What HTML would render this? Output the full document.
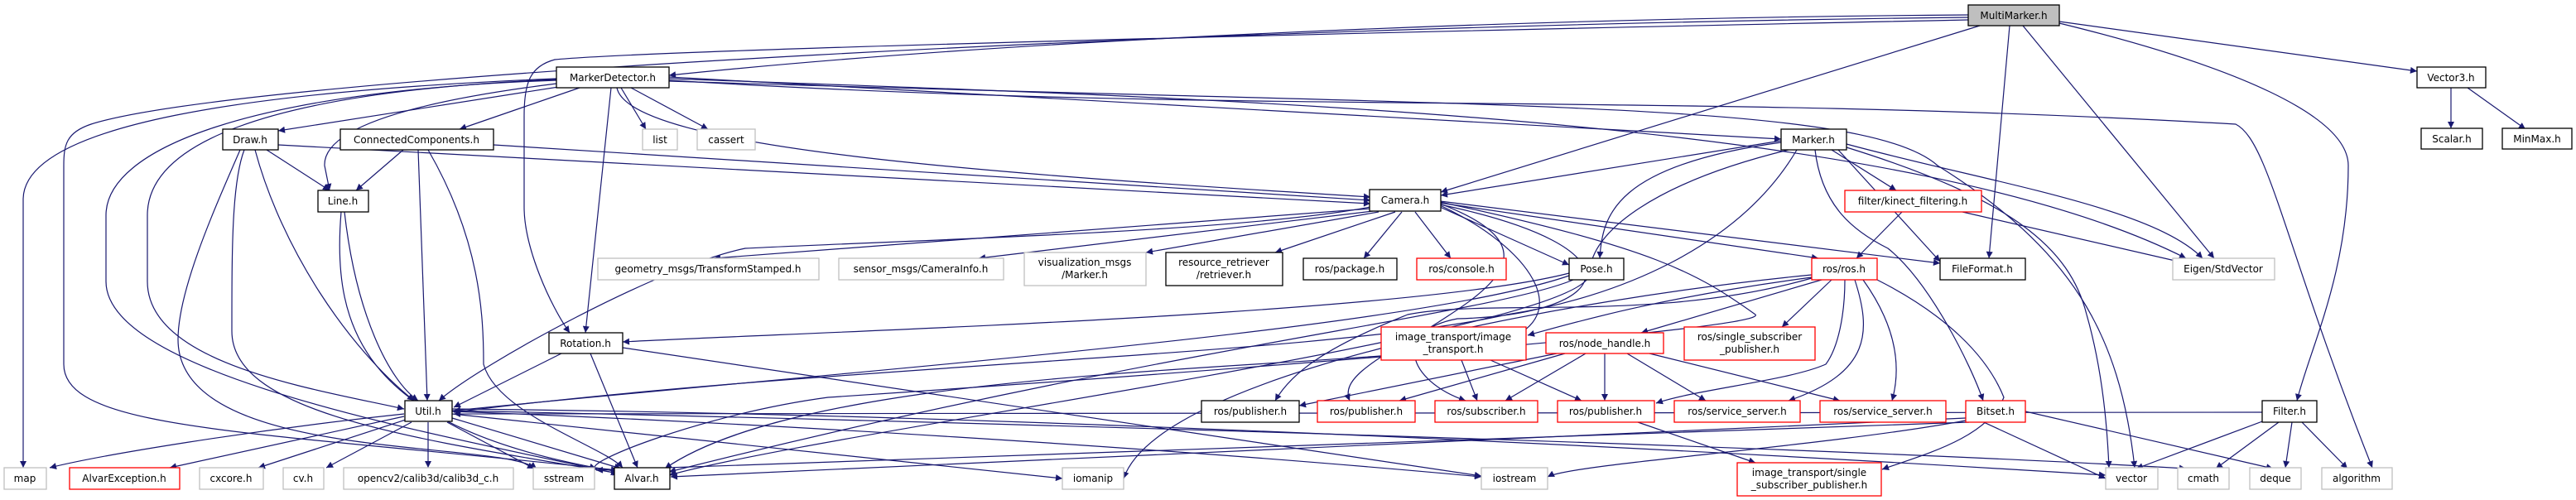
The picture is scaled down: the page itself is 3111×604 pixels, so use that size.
<!DOCTYPE html>
<html><head><meta charset="utf-8"><style>
html,body{margin:0;padding:0;background:#fff;}
svg{display:block;}
text{font-family:"DejaVu Sans","Liberation Sans",sans-serif;font-size:12px;fill:#000;}
.b{fill:#fff;stroke:#000;stroke-width:1.3}
.g{fill:#fff;stroke:#bfbfbf;stroke-width:1.3}
.r{fill:#fff;stroke:#ff0000;stroke-width:1.3}
.e{fill:none;stroke:#191970;stroke-width:1.2}
</style></head><body>
<svg width="3111" height="604" viewBox="0 0 3111 604" xmlns="http://www.w3.org/2000/svg">
<defs><marker id="a" viewBox="0 0 10 10" refX="10" refY="5" markerWidth="10" markerHeight="8" markerUnits="userSpaceOnUse" orient="auto"><path d="M0,0 L10,5 L0,10 z" fill="#191970"/></marker></defs>
<g class="e" marker-end="url(#a)">
<!-- MultiMarker -->
<path d="M2377,18 C1800,22 1200,50 808,91"/>
<path d="M2377,21 C1500,30 300,90 110,150 C80,160 77,175 77,200 L77,440 C77,520 300,520 746,568"/>
<path d="M2377,24 C1600,40 800,60 670,72 C640,80 633,100 633,140 L633,250 C633,300 665,370 688,402"/>
<path d="M2391,31 L1740,232"/>
<path d="M2427,31 L2402,312"/>
<path d="M2443,31 L2674,312"/>
<path d="M2487,26 L2919,86"/>
<path d="M2487,28 C2700,80 2836,140 2836,200 C2836,330 2790,420 2774,484"/>
<!-- MarkerDetector -->
<path d="M681,104 L336,158"/>
<path d="M700,106 L555,156"/>
<path d="M750,106 L780,156"/>
<path d="M762,106 L855,156"/>
<path d="M672,101 C520,120 390,150 392,200 L398,230"/>
<path d="M738,106 L707,402"/>
<path d="M672,96 C300,112 178,180 178,260 L178,340 C178,440 380,470 488,494"/>
<path d="M672,97 C300,110 128,180 128,260 L128,340 C128,450 500,520 746,572"/>
<path d="M672,95 C300,110 30,150 28,240 L28,565"/>
<path d="M745,106 C760,180 1200,210 1655,238"/>
<path d="M808,93 L2151,168"/>
<path d="M808,95 C1500,120 2300,140 2640,312"/>
<path d="M808,97 C1500,140 2000,110 2700,150 C2740,170 2760,300 2865,565"/>
<path d="M808,98 C1800,130 2250,120 2340,200 C2500,300 2560,400 2578,565"/>
<!-- Draw -->
<path d="M322,181 L398,230"/>
<path d="M336,175 L1655,246"/>
<path d="M308,181 C340,300 420,420 500,484"/>
<path d="M295,181 C280,220 280,300 280,400 C280,500 500,530 748,572"/>
<path d="M290,181 C260,250 215,350 215,410 C215,560 600,530 648,566"/>
<!-- ConnectedComponents -->
<path d="M487,181 L430,230"/>
<path d="M505,181 L516,484"/>
<path d="M517,181 C580,290 584,380 584,440 C600,500 730,540 752,565"/>
<path d="M596,175 L1655,242"/>
<!-- Line -->
<path d="M416,256 C430,380 470,460 505,484"/>
<path d="M412,256 C400,400 440,520 748,570"/>
<!-- Camera -->
<path d="M1655,250 C1500,280 1100,290 900,300 C800,320 580,440 530,484"/>
<path d="M1655,252 L862,312"/>
<path d="M1658,255 L1182,312"/>
<path d="M1665,256 L1384,305"/>
<path d="M1685,256 L1540,305"/>
<path d="M1693,256 L1647,312"/>
<path d="M1709,256 L1752,312"/>
<path d="M1739,250 L1895,320"/>
<path d="M1739,245 L2196,312"/>
<path d="M1739,243 L2343,318"/>
<path d="M1739,248 C1850,300 1900,380 1820,410 C1700,450 1000,430 803,566"/>
<path d="M1739,246 C1880,300 1800,350 1720,400 C1650,440 1620,460 1630,484"/>
<path d="M1739,247 C1990,300 1950,380 1760,385 C1680,400 1700,460 1770,484"/>
<path d="M1739,244 C2000,300 2050,330 2120,380 C2140,400 1300,460 1000,480 C850,500 700,560 720,566"/>
<!-- Marker -->
<path d="M2151,170 L1740,236"/>
<path d="M2151,172 C1950,200 1935,260 1932,312"/>
<path d="M2212,181 L2290,230"/>
<path d="M2192,181 C2200,250 2240,280 2280,300 C2330,340 2380,440 2395,484"/>
<path d="M2220,181 L2343,316"/>
<path d="M2230,174 C2400,220 2600,250 2660,312"/>
<path d="M2230,178 C2430,240 2500,300 2520,380 C2540,450 2545,520 2547,565"/>
<path d="M2170,181 C2100,300 1950,360 1820,380 C1600,430 1000,440 548,498"/>
<path d="M2160,181 C2000,220 1920,280 1920,330 C1920,400 1000,520 808,574"/>
<!-- kinect -->
<path d="M2297,256 L2242,312"/>
<path d="M2370,256 L2640,318"/>
<!-- ros/ros -->
<path d="M2200,338 L1982,402"/>
<path d="M2212,338 L2152,395"/>
<path d="M2228,338 C2228,380 2220,420 2205,440 C2160,460 2050,470 2000,487"/>
<path d="M2240,338 C2260,400 2260,450 2160,484"/>
<path d="M2250,338 C2280,380 2300,430 2285,484"/>
<path d="M2188,335 C2000,360 1900,390 1845,405"/>
<path d="M2267,338 C2350,380 2400,430 2420,480 C2400,530 2320,550 2273,567"/>
<path d="M2188,332 C1900,360 1400,450 1357,578"/>
<path d="M2188,336 C2000,390 1800,360 1700,380 C1600,420 1560,450 1540,484"/>
<!-- node_handle -->
<path d="M1880,427 L1569,490"/>
<path d="M1890,427 L1690,484"/>
<path d="M1915,427 L1818,484"/>
<path d="M1938,427 L1938,484"/>
<path d="M1965,427 L2060,484"/>
<path d="M1992,427 L2222,484"/>
<!-- image_transport -->
<path d="M1765,435 L1784,484"/>
<path d="M1800,435 L1910,484"/>
<path d="M1978,510 L2120,559"/>
<!-- Pose -->
<path d="M1895,330 C1700,380 1000,400 752,413"/>
<path d="M1895,333 C1700,400 1000,450 548,496"/>
<path d="M1900,338 C1800,380 1400,420 808,570"/>
<!-- Rotation -->
<path d="M678,427 L548,492"/>
<path d="M713,427 L770,565"/>
<path d="M752,420 L1789,575"/>
<!-- Util -->
<path d="M488,500 C300,520 120,550 60,565"/>
<path d="M488,503 L205,565"/>
<path d="M490,507 L312,565"/>
<path d="M497,510 L394,565"/>
<path d="M517,510 L517,565"/>
<path d="M540,510 L645,566"/>
<path d="M546,505 L750,566"/>
<path d="M546,500 L1283,578"/>
<path d="M546,497 C900,510 1400,540 1789,576"/>
<path d="M546,494 C1200,500 2000,540 2543,574"/>
<path d="M546,496 C1200,510 2200,540 2640,566"/>
<!-- Bitset -->
<path d="M2374,505 C2000,520 1200,560 810,576"/>
<path d="M2374,508 C2200,540 1900,560 1869,576"/>
<path d="M2374,500 L2543,578"/>
<path d="M2446,497 L2745,566"/>
<path d="M2378,510 L720,568"/>
<!-- Filter -->
<path d="M2732,498 L548,500"/>
<path d="M2735,508 L2580,566"/>
<path d="M2752,510 L2676,566"/>
<path d="M2768,510 L2760,565"/>
<path d="M2780,510 L2835,566"/>
<!-- Vector3 -->
<path d="M2960,106 L2960,155"/>
<path d="M2980,106 L3050,156"/>
</g>
<!-- nodes -->
<rect x="2377" y="6" width="110" height="25" fill="#bfbfbf" stroke="#000" stroke-width="1.3"/><text x="2432" y="23" text-anchor="middle">MultiMarker.h</text>
<rect class="b" x="672" y="81" width="136" height="25"/><text x="740" y="98" text-anchor="middle">MarkerDetector.h</text>
<rect class="b" x="2919" y="81" width="83" height="25"/><text x="2960" y="98" text-anchor="middle">Vector3.h</text>
<rect class="b" x="269" y="156" width="67" height="25"/><text x="302" y="173" text-anchor="middle">Draw.h</text>
<rect class="b" x="411" y="156" width="185" height="25"/><text x="503" y="173" text-anchor="middle">ConnectedComponents.h</text>
<rect class="g" x="776" y="156" width="42" height="25"/><text x="797" y="173" text-anchor="middle">list</text>
<rect class="g" x="842" y="156" width="70" height="25"/><text x="877" y="173" text-anchor="middle">cassert</text>
<rect class="b" x="2151" y="156" width="79" height="25"/><text x="2190" y="173" text-anchor="middle">Marker.h</text>
<rect class="b" x="2924" y="155" width="74" height="25"/><text x="2961" y="172" text-anchor="middle">Scalar.h</text>
<rect class="b" x="3022" y="155" width="84" height="25"/><text x="3064" y="172" text-anchor="middle">MinMax.h</text>
<rect class="b" x="384" y="230" width="61" height="26"/><text x="414" y="247" text-anchor="middle">Line.h</text>
<rect class="b" x="1654" y="229" width="86" height="26"/><text x="1697" y="246" text-anchor="middle">Camera.h</text>
<rect class="r" x="2228" y="230" width="165" height="26"/><text x="2310" y="247" text-anchor="middle">filter/kinect_filtering.h</text>
<rect class="g" x="722" y="312" width="267" height="26"/><text x="855" y="329" text-anchor="middle">geometry_msgs/TransformStamped.h</text>
<rect class="g" x="1013" y="312" width="199" height="26"/><text x="1112" y="329" text-anchor="middle">sensor_msgs/CameraInfo.h</text>
<rect class="g" x="1237" y="305" width="147" height="40"/><text x="1310" y="321" text-anchor="middle">visualization_msgs</text><text x="1310" y="336" text-anchor="middle">/Marker.h</text>
<rect class="b" x="1408" y="305" width="141" height="40"/><text x="1478" y="321" text-anchor="middle">resource_retriever</text><text x="1478" y="336" text-anchor="middle">/retriever.h</text>
<rect class="b" x="1574" y="312" width="113" height="26"/><text x="1630" y="329" text-anchor="middle">ros/package.h</text>
<rect class="r" x="1711" y="312" width="108" height="26"/><text x="1765" y="329" text-anchor="middle">ros/console.h</text>
<rect class="b" x="1895" y="312" width="66" height="26"/><text x="1928" y="329" text-anchor="middle">Pose.h</text>
<rect class="r" x="2188" y="312" width="79" height="26"/><text x="2227" y="329" text-anchor="middle">ros/ros.h</text>
<rect class="b" x="2343" y="312" width="103" height="26"/><text x="2394" y="329" text-anchor="middle">FileFormat.h</text>
<rect class="g" x="2624" y="312" width="123" height="26"/><text x="2685" y="329" text-anchor="middle">Eigen/StdVector</text>
<rect class="b" x="663" y="402" width="89" height="25"/><text x="707" y="419" text-anchor="middle">Rotation.h</text>
<rect class="r" x="1668" y="395" width="175" height="40"/><text x="1755" y="411" text-anchor="middle">image_transport/image</text><text x="1755" y="426" text-anchor="middle">_transport.h</text>
<rect class="r" x="1867" y="402" width="142" height="25"/><text x="1938" y="419" text-anchor="middle">ros/node_handle.h</text>
<rect class="r" x="2034" y="395" width="158" height="40"/><text x="2113" y="411" text-anchor="middle">ros/single_subscriber</text><text x="2113" y="426" text-anchor="middle">_publisher.h</text>
<rect class="b" x="489" y="484" width="57" height="25"/><text x="517" y="501" text-anchor="middle">Util.h</text>
<rect class="b" x="1451" y="484" width="118" height="26"/><text x="1510" y="501" text-anchor="middle">ros/publisher.h</text>
<rect class="r" x="1591" y="484" width="118" height="26"/><text x="1650" y="501" text-anchor="middle">ros/publisher.h</text>
<rect class="r" x="1733" y="484" width="124" height="26"/><text x="1795" y="501" text-anchor="middle">ros/subscriber.h</text>
<rect class="r" x="1881" y="484" width="117" height="26"/><text x="1939" y="501" text-anchor="middle">ros/publisher.h</text>
<rect class="r" x="2022" y="484" width="152" height="26"/><text x="2098" y="501" text-anchor="middle">ros/service_server.h</text>
<rect class="r" x="2198" y="484" width="152" height="26"/><text x="2274" y="501" text-anchor="middle">ros/service_server.h</text>
<rect class="r" x="2374" y="484" width="72" height="26"/><text x="2410" y="501" text-anchor="middle">Bitset.h</text>
<rect class="b" x="2732" y="484" width="66" height="26"/><text x="2765" y="501" text-anchor="middle">Filter.h</text>
<rect class="g" x="5" y="565" width="51" height="26"/><text x="30" y="582" text-anchor="middle">map</text>
<rect class="r" x="84" y="565" width="133" height="26"/><text x="150" y="582" text-anchor="middle">AlvarException.h</text>
<rect class="g" x="241" y="565" width="77" height="26"/><text x="279" y="582" text-anchor="middle">cxcore.h</text>
<rect class="g" x="342" y="565" width="49" height="26"/><text x="366" y="582" text-anchor="middle">cv.h</text>
<rect class="g" x="415" y="565" width="205" height="26"/><text x="517" y="582" text-anchor="middle">opencv2/calib3d/calib3d_c.h</text>
<rect class="g" x="644" y="565" width="74" height="26"/><text x="681" y="582" text-anchor="middle">sstream</text>
<rect class="b" x="742" y="565" width="67" height="26"/><text x="775" y="582" text-anchor="middle">Alvar.h</text>
<rect class="g" x="1283" y="565" width="74" height="26"/><text x="1320" y="582" text-anchor="middle">iomanip</text>
<rect class="g" x="1789" y="565" width="80" height="26"/><text x="1829" y="582" text-anchor="middle">iostream</text>
<rect class="r" x="2098" y="559" width="174" height="40"/><text x="2185" y="575" text-anchor="middle">image_transport/single</text><text x="2185" y="590" text-anchor="middle">_subscriber_publisher.h</text>
<rect class="g" x="2543" y="565" width="63" height="26"/><text x="2574" y="582" text-anchor="middle">vector</text>
<rect class="g" x="2630" y="565" width="62" height="26"/><text x="2661" y="582" text-anchor="middle">cmath</text>
<rect class="g" x="2717" y="565" width="62" height="26"/><text x="2748" y="582" text-anchor="middle">deque</text>
<rect class="g" x="2804" y="565" width="85" height="26"/><text x="2846" y="582" text-anchor="middle">algorithm</text>
</g>
</svg>
</body></html>
